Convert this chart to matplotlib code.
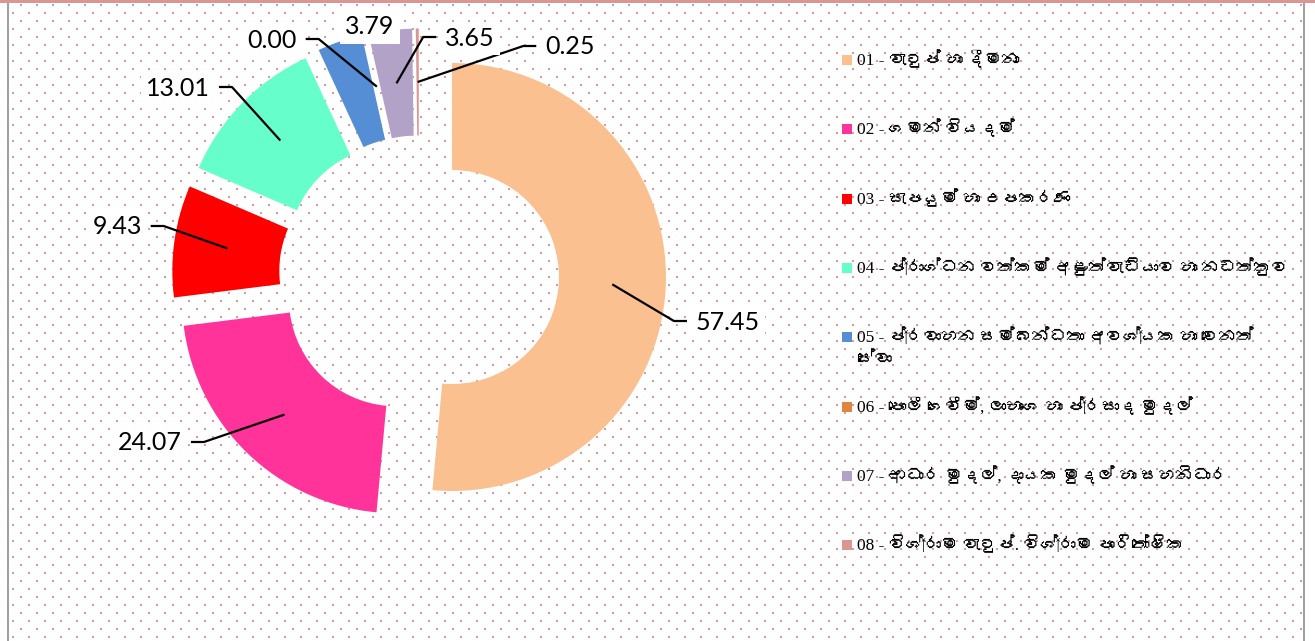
import numpy as np
import matplotlib
matplotlib.use("Agg")
import matplotlib.pyplot as plt
from matplotlib import font_manager as fm
from matplotlib.patches import Rectangle
from matplotlib.ft2font import FT2Font

# ---------------- data ----------------
codes = ["01", "02", "03", "04", "05", "06", "07", "08"]
categories = [
    "වැටුප් හා දීමනා",
    "ගමන් වියදම්",
    "සැපයුම් හා උපකරණ",
    "ප්‍රාග්ධන වත්කම් අළුත්වැඩියාව හා නඩත්තුව",
    "ප්‍රවාහන සම්බන්ධතා අවශ්‍යක හා වෙනත්\nසේවා",
    "පොලී ගෙවීම්, ලාභාංශ හා ප්‍රසාද මුදල්",
    "ආධාර මුදල්, දායක මුදල් හා සහනිධාර",
    "විශ්‍රාම වැටුප්. විශ්‍රාම පාරිතෝෂික",
]
values = [57.45, 24.07, 9.43, 13.01, 3.79, 0.00, 3.65, 0.25]
colors = ["#FAC090", "#FF3399", "#FF0000", "#66FFCC",
          "#558ED5", "#E0843F", "#B3A2C7", "#D99694"]

# ---------------- layout ----------------
W, H = 1315, 641
CX, CY, R = 419, 275.5, 214
EXPL = 33
# data-label text centres (image pixel coords)
label_pos = [(728, 322), (150, 443), (117, 227), (178, 88),
             (370, 27), (272, 40), (470, 38), (570, 47)]
show_leader = [True, True, True, True, False, True, True, True]


def find_font(ch):
    for f in fm.fontManager.ttflist:
        try:
            if ord(ch) in FT2Font(f.fname).get_charmap():
                return f.name
        except Exception:
            continue
    return None


sinhala = find_font("ව")
legend_family = ["Liberation Serif"] + ([sinhala] if sinhala else []) + ["DejaVu Sans"]

fig = plt.figure(figsize=(W / 100, H / 100), dpi=100)
fig.patch.set_facecolor("white")
ax = fig.add_axes([0, 0, 1, 1])


def Y(y):
    return H - y


def grid_points(x0, x1, y0, y1):
    pts = []
    for k in range(0, 81):
        yy = 5 + 8 * k
        if yy < y0 or yy > y1:
            continue
        xs = np.arange(5 + 8 * (k % 2), W, 16)
        xs = xs[(xs >= x0) & (xs <= x1)]
        pts.extend((x, yy) for x in xs)
    return np.array(pts) if pts else np.zeros((0, 2))


# background dotted pattern
bg = grid_points(11, 1301, 5, H)
ax.scatter(bg[:, 0], Y(bg[:, 1]), marker="s", s=2.2, c="#DB9C9A",
           linewidths=0, zorder=0)

# borders
ax.add_patch(Rectangle((0, H - 3), W, 3, color="#D99694", zorder=1, lw=0))
ax.add_patch(Rectangle((7, 0), 2, H - 3, color="#A0A0A0", zorder=1, lw=0))
ax.add_patch(Rectangle((1303, 0), 2.5, H - 3, color="#A0A0A0", zorder=1, lw=0))

# doughnut
wedges, _ = ax.pie(values, colors=colors, startangle=90, counterclock=False,
                   radius=R, center=(CX, Y(CY)), explode=[EXPL] * len(values),
                   wedgeprops=dict(width=R * 0.5, linewidth=0), normalize=True)
for w in wedges:
    w.set_zorder(2)

ax.set_xlim(0, W)
ax.set_ylim(0, H)
ax.set_aspect("equal")
ax.axis("off")

# data labels
texts = []
for i, v in enumerate(values):
    tx, ty = label_pos[i]
    t = ax.text(tx, Y(ty), f"{v:.2f}", ha="center", va="center",
                fontsize=18, family="Lato", color="black", zorder=6,
                bbox=dict(boxstyle="square,pad=0.2", fc="white", ec="none"))
    texts.append(t)

fig.canvas.draw()
renderer = fig.canvas.get_renderer()

for i, t in enumerate(texts):
    w = wedges[i]
    th = np.deg2rad((w.theta1 + w.theta2) / 2)
    cx, cy = w.center
    ax_, ay_ = cx + 0.75 * R * np.cos(th), cy + 0.75 * R * np.sin(th)
    ext = t.get_window_extent(renderer)
    ty = Y(label_pos[i][1]) + 1
    if show_leader[i]:
        if label_pos[i][0] > ax_:
            ex, bx = ext.x0 - 9, ext.x0 - 22
        else:
            ex, bx = ext.x1 + 9, ext.x1 + 22
        ax.plot([ax_, bx, ex], [ay_, ty, ty], color="black", lw=1.6,
                zorder=4, solid_capstyle="butt")
    bext = t.get_bbox_patch().get_window_extent(renderer)
    pts = grid_points(bext.x0 + 1, bext.x1 - 1, H - bext.y1 + 1, H - bext.y0 - 1)
    if len(pts):
        ax.scatter(pts[:, 0], Y(pts[:, 1]), marker="s", s=2.2, c="#77933C",
                   linewidths=0, zorder=5.5)

# legend
for i, (code, name) in enumerate(zip(codes, categories)):
    yc = 60 + i * 69.3
    ax.add_patch(Rectangle((842, Y(yc) - 5), 10, 10, color=colors[i], lw=0, zorder=6))
    lines = f"{code} - {name}".split("\n")
    for k, line in enumerate(lines):
        ax.text(857, Y(yc + k * 23), line, ha="left", va="center",
                fontsize=12.5, family=legend_family, color="black", zorder=6)

fig.savefig("out.png", dpi=100, facecolor="white")
